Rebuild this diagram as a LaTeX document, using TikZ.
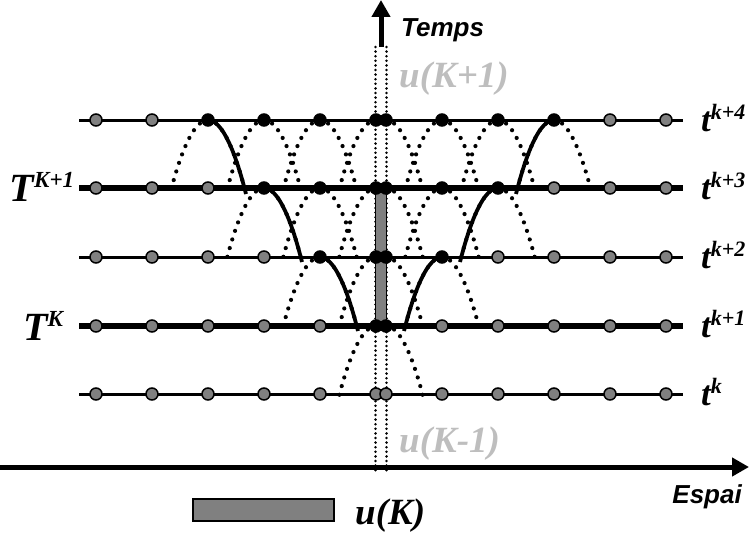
\documentclass[tikz,border=0pt]{standalone}
\usepackage{fontspec}
\usepackage{tikz}
\usetikzlibrary{arrows.meta}
\usepackage{xcolor}

\newfontfamily\timesbi{Liberation Serif}
\newfontfamily\arialbi{Liberation Sans}
\definecolor{dotgray}{RGB}{128,128,128}
\definecolor{ugray}{RGB}{190,190,190}

% level label: base letter + raised exponent
\newcommand{\levlab}[4]{{\timesbi\bfseries\itshape\fontsize{#3}{#3}\selectfont #1\raisebox{0.33em}{\fontsize{#4}{#4}\selectfont #2}}}

\begin{document}
\begin{tikzpicture}[
    x=1pt, y=-1pt,
    thinlev/.style={line width=3pt},
    thicklev/.style={line width=6pt},
    gdot/.style={circle, fill=dotgray, draw=black, line width=1.5pt,
      inner sep=0pt, minimum size=12pt},
    bdot/.style={circle, fill=black, draw=black, line width=1.5pt,
      inner sep=0pt, minimum size=12pt},
    arch/.style={line width=4.2pt, line cap=round, dash pattern=on 0pt off 9pt},
    bound/.style={line width=3.8pt},
    vdots/.style={line width=2.8pt, line cap=round, dash pattern=on 0pt off 4.6pt},
    axis/.style={line width=5pt, -{Triangle[length=17pt, width=18pt]}},
    ulab/.style={inner sep=0pt, font=\timesbi\bfseries\itshape\fontsize{37}{37}\selectfont},
    alab/.style={inner sep=0pt, font=\arialbi\bfseries\itshape\fontsize{26}{26}\selectfont},
  ]
  \useasboundingbox (0,0) rectangle (749,535);

  %% Vertical dotted bounds of the cell
  \coordinate (vl top) at (375.5,47);
  \coordinate (vl bot) at (375.5,471);
  \coordinate (vr top) at (386.5,47);
  \coordinate (vr bot) at (386.5,471);
  \draw[vdots] (vl top) -- (vl bot);
  \draw[vdots] (vr top) -- (vr bot);

  %% Axes
  \coordinate (t foot) at (381,47);
  \coordinate (t tip) at (381,0);
  \draw[axis] (t foot) -- (t tip);
  \coordinate (x foot) at (0,467);
  \coordinate (x tip) at (749,467);
  \draw[axis] (x foot) -- (x tip);

  %% Time levels
  \foreach \n/\yy in {0/394,1/326,2/257,3/188,4/120} {
    \coordinate (w\n) at (79,\yy);
    \coordinate (e\n) at (683,\yy);
    \ifodd\n
      \draw[thicklev] (w\n) -- (e\n);
    \else
      \draw[thinlev] (w\n) -- (e\n);
    \fi
  }

  %% Dotted arches below every active point (the cell pair shares one)
  \foreach \n/\yy in {1/326,2/257,3/188,4/120} {
    \foreach \i in {0,...,11} {
      \pgfmathsetmacro\xx{ifthenelse(\i<6,96+56*\i,386+56*(\i-6))}
      \pgfmathtruncatemacro\act{and(\i>=6-\n,\i<=5+\n)}
      \ifnum\act=1
        \ifnum\i=6 \else
          \draw[arch] (\xx,\yy) parabola (\xx-38,\yy+74);
        \fi
        \ifnum\i=5 \else
          \draw[arch] (\xx,\yy) parabola (\xx+38,\yy+74);
        \fi
      \fi
    }
  }

  %% Dependence boundary
  \foreach \n/\yy in {2/257,3/188,4/120} {
    \pgfmathsetmacro\xl{96+56*(6-\n)}
    \pgfmathsetmacro\xr{386+56*(\n-1)}
    \draw[bound] (\xl,\yy) parabola (\xl+38,\yy+74);
    \draw[bound] (\xr,\yy) parabola (\xr-38,\yy+74);
  }

  %% Cell u(K)
  \coordinate (c top) at (375.5,188);
  \coordinate (c bot) at (386.5,326);
  \draw[fill=dotgray, line width=1.5pt] (c top) rectangle (c bot);

  %% Points
  \foreach \n/\yy in {0/394,1/326,2/257,3/188,4/120} {
    \foreach \i in {0,...,11} {
      \pgfmathsetmacro\xx{ifthenelse(\i<6,96+56*\i,386+56*(\i-6))}
      \pgfmathtruncatemacro\act{and(\i>=6-\n,\i<=5+\n)}
      \ifnum\act=1
        \node[bdot] (d\n-\i) at (\xx,\yy) {};
      \else
        \node[gdot] (d\n-\i) at (\xx,\yy) {};
      \fi
    }
  }

  %% Level labels
  \foreach \n/\yy/\ex in {0/394/k,1/326/k+1,2/257/k+2,3/188/k+3,4/120/k+4}
    \node[inner sep=0pt, anchor=base west] (tl\n) at (701,\yy+11)
      {\levlab{t}{\ex}{35}{22}};
  \node[inner sep=0pt, anchor=base] (TK1) at (42,201) {\levlab{T}{K+1}{40}{23}};
  \node[inner sep=0pt, anchor=base] (TK) at (43,340) {\levlab{T}{K}{40}{23}};

  %% Cell labels
  \node[ulab, text=ugray, anchor=base west] (uKp) at (399,88) {u(K+1)};
  \node[ulab, text=ugray, anchor=base west] (uKm) at (399,452) {u(K-1)};
  \node[ulab, anchor=base west] (uK) at (355,524) {u(K)};
  \node[draw, fill=dotgray, line width=1.5pt, minimum width=141pt,
    minimum height=22pt, inner sep=0pt] (ubar) at (263.5,510) {};

  %% Axis labels
  \node[alab, anchor=base west] (temps) at (401,37) {Temps};
  \node[alab, anchor=base east] (espai) at (742,503) {Espai};

\end{tikzpicture}
\end{document}
